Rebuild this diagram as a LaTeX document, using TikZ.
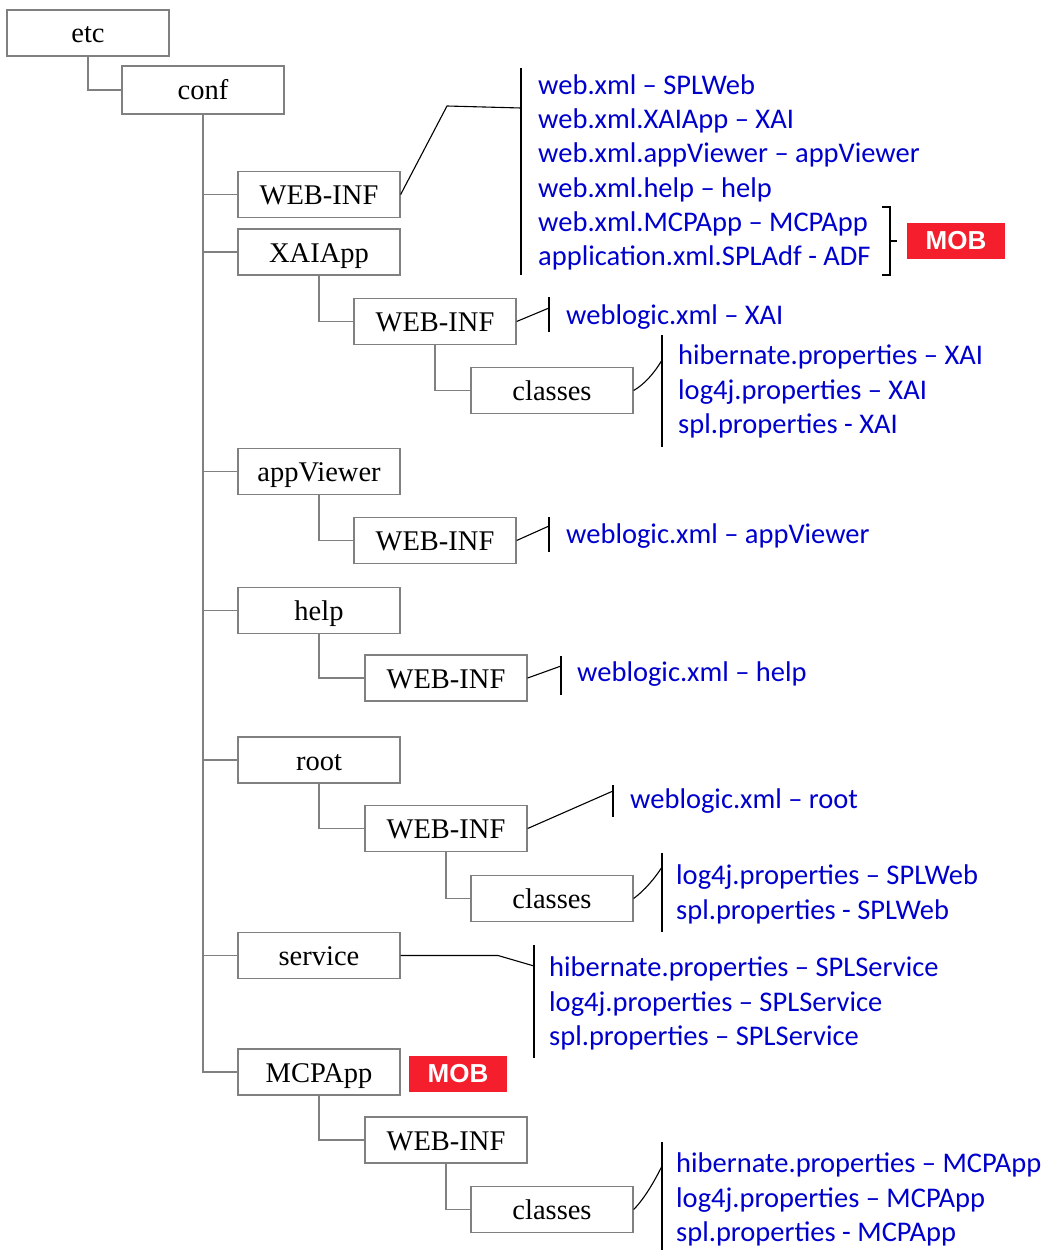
\documentclass[tikz,border=0pt]{standalone}
\usepackage{fontspec}
\setmainfont{Liberation Serif}
\newfontfamily\calib{Carlito}
\newfontfamily\mobfont{Liberation Sans}
\definecolor{boxgray}{RGB}{128,128,128}
\definecolor{fblue}{RGB}{0,0,204}
\definecolor{mobred}{RGB}{245,30,45}
\begin{document}
\begin{tikzpicture}[x=1pt,y=-1pt,
 fbox/.style={draw=boxgray, line width=1.3pt, fill=white, minimum width=162pt, minimum height=46pt, inner sep=0pt, text height=21pt, text depth=1pt, font=\fontsize{28.5}{30}\selectfont},
 tree/.style={draw=boxgray, line width=1.6pt},
 lead/.style={draw=black, line width=1.1pt},
 ftext/.style={font=\calib\fontsize{28.5}{33}\selectfont, text=fblue, anchor=west, inner sep=0pt, text height=20pt, text depth=1pt},
 mob/.style={fill=mobred, minimum width=98pt, minimum height=36pt, inner sep=0pt, text=white, font=\mobfont\bfseries\fontsize{26}{30}\selectfont}]
\useasboundingbox (0,0) rectangle (1045,1252);

% folder boxes
\node[fbox] (etc) at (88,33) {etc};
\node[fbox, minimum height=48pt] (conf) at (203,90) {conf};
\node[fbox] (web1) at (319,194.5) {WEB-INF};
\node[fbox] (xai) at (319,252) {XAIApp};
\node[fbox] (web2) at (435,321.5) {WEB-INF};
\node[fbox] (cls1) at (552,390.5) {classes};
\node[fbox] (appv) at (319,471.5) {appViewer};
\node[fbox] (web3) at (435,540.5) {WEB-INF};
\node[fbox] (help) at (319,610.5) {help};
\node[fbox] (web4) at (446,678) {WEB-INF};
\node[fbox] (root) at (319,760) {root};
\node[fbox] (web5) at (446,828.5) {WEB-INF};
\node[fbox] (cls2) at (552,898.5) {classes};
\node[fbox] (serv) at (319,955.5) {service};
\node[fbox] (mcp) at (319,1072) {MCPApp};
\node[fbox] (web6) at (446,1140) {WEB-INF};
\node[fbox] (cls3) at (552,1209.5) {classes};

% MOB tags
\node[mob] (mob1) at (956,241) {MOB};
\node[mob] (mob2) at (458,1074) {MOB};

% tree connectors
\draw[tree] (etc.south) |- (conf.west);
\draw[tree] (conf.south) |- (mcp.west);
\foreach \n in {web1,xai,appv,help,root,serv}
  \draw[tree] (conf.south |- \n.west) -- (\n.west);
\draw[tree] (xai.south) |- (web2.west);
\draw[tree] (web2.south) |- (cls1.west);
\draw[tree] (appv.south) |- (web3.west);
\draw[tree] (help.south) |- (web4.west);
\draw[tree] (root.south) |- (web5.west);
\draw[tree] (web5.south) |- (cls2.west);
\draw[tree] (mcp.south) |- (web6.west);
\draw[tree] (web6.south) |- (cls3.west);

% file lists
\node[ftext] (a1) at (538,85) {web.xml – SPLWeb};
\node[ftext] (a2) at (538,119.2) {web.xml.XAIApp – XAI};
\node[ftext] (a3) at (538,153.4) {web.xml.appViewer – appViewer};
\node[ftext] (a4) at (538,187.6) {web.xml.help – help};
\node[ftext] (a5) at (538,221.8) {web.xml.MCPApp – MCPApp};
\node[ftext] (a6) at (538,256) {application.xml.SPLAdf - ADF};

\node[ftext] (b1) at (566,315) {weblogic.xml – XAI};
\node[ftext] (c1) at (678,355) {hibernate.properties – XAI};
\node[ftext] (c2) at (678,390) {log4j.properties – XAI};
\node[ftext] (c3) at (678,424) {spl.properties - XAI};
\node[ftext] (d1) at (566,534) {weblogic.xml – appViewer};
\node[ftext] (e1) at (577,672) {weblogic.xml – help};
\node[ftext] (f1) at (630,799) {weblogic.xml – root};
\node[ftext] (g1) at (676,875) {log4j.properties – SPLWeb};
\node[ftext] (g2) at (676,910) {spl.properties - SPLWeb};
\node[ftext] (h1) at (549,967) {hibernate.properties – SPLService};
\node[ftext] (h2) at (549,1002) {log4j.properties – SPLService};
\node[ftext] (h3) at (549,1036) {spl.properties – SPLService};
\node[ftext] (i1) at (676,1163) {hibernate.properties – MCPApp};
\node[ftext] (i2) at (676,1198) {log4j.properties – MCPApp};
\node[ftext] (i3) at (676,1232) {spl.properties - MCPApp};

% bracket bars and leaders
\coordinate (ka) at (521,68); \coordinate (kb) at (521,275);
\draw[lead] (ka) -- (kb);
\coordinate (kj) at (447,106); \coordinate (kk) at (521,108);
\draw[lead] (web1.east) -- (kj) -- (kk);
\draw[lead] (882,207) -- (890,207) -- (890,275) -- (882,275);
\coordinate (braceTip) at (897,241);
\draw[lead] (890,241) -- (braceTip);

\coordinate (la) at (549,297); \coordinate (lb) at (549,332);
\draw[lead] (la) -- (lb);
\draw[lead] (web2.east) -- (549,308);

\coordinate (ma) at (662,335); \coordinate (mb) at (662,447);
\draw[lead] (ma) -- (mb);
\draw[lead] (cls1.east) .. controls (645,384) and (655,372) .. (662,360);

\coordinate (na) at (549,517); \coordinate (nb) at (549,552);
\draw[lead] (na) -- (nb);
\draw[lead] (web3.east) -- (549,526);

\coordinate (oa) at (561,656); \coordinate (ob) at (561,695);
\draw[lead] (oa) -- (ob);
\draw[lead] (web4.east) -- (561,666);

\coordinate (pa) at (613,785); \coordinate (pb) at (613,817);
\draw[lead] (pa) -- (pb);
\draw[lead] (web5.east) -- (613,791);

\coordinate (qa) at (662,853); \coordinate (qb) at (662,932);
\draw[lead] (qa) -- (qb);
\draw[lead] (cls2.east) .. controls (645,890) and (655,878) .. (662,867);

\coordinate (ra) at (534,945); \coordinate (rb) at (534,1058);
\draw[lead] (ra) -- (rb);
\coordinate (rj) at (498,955.5);
\draw[lead] (serv.east) -- (rj) -- (534,966);

\coordinate (sa) at (662,1142); \coordinate (sb) at (662,1250);
\draw[lead] (sa) -- (sb);
\draw[lead] (cls3.east) .. controls (645,1198) and (655,1180) .. (662,1166);
\end{tikzpicture}
\end{document}
